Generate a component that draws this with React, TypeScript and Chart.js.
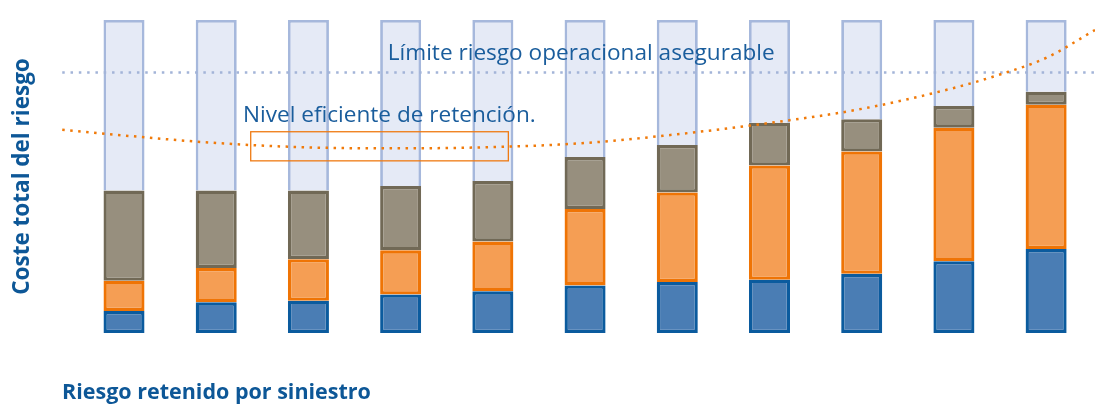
import { useEffect, useRef } from "react";
import { Chart, registerables } from "chart.js";

Chart.register(...registerables);

// Retention levels (positions along the hidden linear x axis)
const categories = [1, 2, 3, 4, 5, 6, 7, 8, 9, 10, 11];

// Stacked cost components (share of total scale 0-100)
const retainedLosses = [7.0, 9.8, 10.3, 12.3, 13.3, 15.2, 16.3, 17.0, 18.9, 22.9, 26.8];
const retentionCosts = [9.7, 11.0, 13.3, 14.1, 15.9, 24.4, 28.6, 36.5, 39.1, 42.7, 46.1];
const transferCosts = [28.8, 24.7, 21.9, 20.6, 19.4, 16.6, 15.2, 13.7, 10.3, 6.9, 4.2];
const unusedCapacity = [54.5, 54.5, 54.5, 53.0, 51.4, 43.8, 39.9, 32.8, 31.7, 27.5, 22.9];

// Total risk cost curve (dotted orange)
const curveX = [0.33, 1, 2, 3, 4, 5, 6, 7, 8, 9, 10, 10.5, 11, 11.53];
const curveY = [64.9, 63.1, 60.7, 59.3, 59.0, 59.4, 60.7, 63.5, 67.1, 71.6, 78.3, 82.6, 87.9, 96.8];

// Insurable operational risk limit (dotted blue)
const limitX = [0.33, 11.53];
const limitY = [83.2, 83.2];

// Texts
const yTitle = "Coste total del riesgo";
const xTitle = "Riesgo retenido por siniestro";
const limitLabel = "Límite riesgo operacional asegurable";
const efficientLabel = "Nivel eficiente de retención.";

// Annotation anchors in data units
const limitLabelAt = { x: 3.86, y: 87.2 };
const efficientLabelAt = { x: 2.29, y: 67.5 };
const efficientBox = { x0: 2.374, x1: 5.168, y0: 55.0, y1: 64.3 };

const X_MIN = 0.3275;
const X_MAX = 11.53;

const TITLE_COLOR = "#0d5797";
const LABEL_COLOR = "#1a5d9c";

const annotationPlugin = {
  id: "annotationPlugin",
  afterDatasetsDraw(chart: any) {
    const { ctx, scales } = chart;
    const x = scales.x;
    const y = scales.y;
    ctx.save();
    const bx0 = x.getPixelForValue(efficientBox.x0);
    const bx1 = x.getPixelForValue(efficientBox.x1);
    const by0 = y.getPixelForValue(efficientBox.y1);
    const by1 = y.getPixelForValue(efficientBox.y0);
    ctx.strokeStyle = "#ef7a12";
    ctx.lineWidth = 1.3;
    ctx.strokeRect(bx0, by0, bx1 - bx0, by1 - by0);
    ctx.fillStyle = LABEL_COLOR;
    ctx.font = '22.6px "Open Sans"';
    ctx.textAlign = "left";
    ctx.textBaseline = "alphabetic";
    ctx.fillText(limitLabel, x.getPixelForValue(limitLabelAt.x), y.getPixelForValue(limitLabelAt.y));
    ctx.fillText(efficientLabel, x.getPixelForValue(efficientLabelAt.x), y.getPixelForValue(efficientLabelAt.y));
    ctx.restore();
  },
};

function barSet(label: string, data: number[], fill: string, border: string, bw: number, skipped: any) {
  return {
    type: "bar" as const,
    label,
    data: categories.map((c, i) => ({ x: c, y: data[i] })),
    backgroundColor: fill,
    borderColor: border,
    borderWidth: bw,
    borderSkipped: skipped,
    stack: "bars",
    order: 2,
    barPercentage: 0.445,
    categoryPercentage: 1,
  };
}

export default function App() {
  const ref = useRef<HTMLCanvasElement | null>(null);

  useEffect(() => {
    document.body.style.margin = "0";
    if (!ref.current) return;
    const chart = new Chart(ref.current, {
      type: "bar",
      data: {
        datasets: [
          barSet("Pérdidas retenidas", retainedLosses, "#4a7db4", "#0b5b9e", 3.3, false),
          barSet("Coste de retención", retentionCosts, "#f59e54", "#ef7405", 3.3, false),
          barSet("Coste de transferencia", transferCosts, "#978f7e", "#716956", 3.3, false),
          barSet("Capacidad", unusedCapacity, "#e5eaf6", "#a6b8dc", 2.8, "bottom"),
          {
            type: "line" as const,
            label: "Coste total",
            data: curveX.map((v, i) => ({ x: v, y: curveY[i] })),
            borderColor: "#f07a0a",
            borderWidth: 2.5,
            borderDash: [2.5, 5.5],
            pointRadius: 0,
            cubicInterpolationMode: "monotone",
            fill: false,
            stack: "curve",
            order: 0,
          },
          {
            type: "line" as const,
            label: "Límite",
            data: limitX.map((v, i) => ({ x: v, y: limitY[i] })),
            borderColor: "#a3b4d8",
            borderWidth: 2.5,
            borderDash: [2.5, 5.8],
            pointRadius: 0,
            fill: false,
            stack: "limit",
            order: 1,
          },
        ] as any,
      },
      options: {
        animation: false,
        responsive: false,
        layout: { padding: { top: 20, right: 2, left: 0, bottom: 0 } },
        plugins: { legend: { display: false }, tooltip: { enabled: false } },
        scales: {
          x: {
            type: "linear",
            offset: false,
            min: X_MIN,
            max: X_MAX,
            ticks: { display: false },
            grid: { display: false, offset: false },
            border: { display: false },
            title: {
              display: true,
              text: xTitle,
              align: "start",
              color: TITLE_COLOR,
              font: { family: "Open Sans", size: 21.5, weight: "bold" },
              padding: { top: 0, bottom: 0 },
            },
            afterFit(scale: any) {
              scale.height = 73;
            },
          },
          y: {
            stacked: true,
            min: 0,
            max: 100,
            ticks: { display: false },
            grid: { display: false },
            border: { display: false },
            title: {
              display: true,
              text: yTitle,
              color: TITLE_COLOR,
              font: { family: "Open Sans", size: 22.5, weight: "bold" },
              padding: { top: 9, bottom: 0 },
            },
            afterFit(scale: any) {
              scale.width = 62;
            },
          },
        },
      } as any,
      plugins: [annotationPlugin],
    });
    return () => chart.destroy();
  }, []);

  return (
    <div style={{ width: 1097, height: 406 }}>
      <canvas ref={ref} width={1097} height={406} />
    </div>
  );
}
